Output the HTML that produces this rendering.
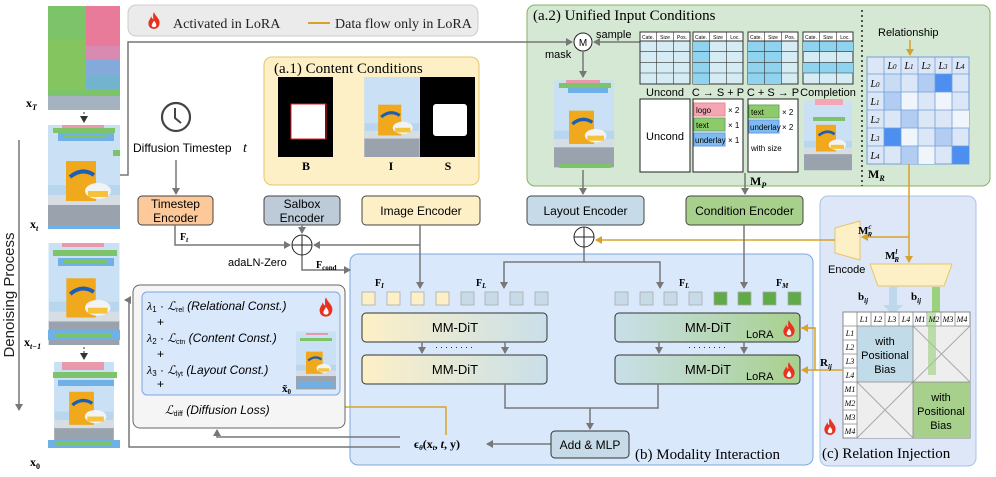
<!DOCTYPE html>
<html><head><meta charset="utf-8"><style>
html,body{margin:0;padding:0;background:#fff}
svg{display:block}
.s{font-family:"Liberation Sans",sans-serif}
.r{font-family:"Liberation Serif",serif}
</style></head><body>
<svg width="996" height="477" viewBox="0 0 996 477" xmlns="http://www.w3.org/2000/svg">
<defs>
<marker id="ag" markerWidth="8" markerHeight="8" refX="6" refY="4" orient="auto" markerUnits="userSpaceOnUse"><path d="M0,0 L7,4 L0,8 Z" fill="#777"/></marker>
<marker id="ay" markerWidth="8" markerHeight="8" refX="6" refY="4" orient="auto" markerUnits="userSpaceOnUse"><path d="M0,0 L7,4 L0,8 Z" fill="#d6a32a"/></marker>
<marker id="ak" markerWidth="8" markerHeight="8" refX="6" refY="4" orient="auto" markerUnits="userSpaceOnUse"><path d="M0,0 L7,4 L0,8 Z" fill="#333"/></marker>
<symbol id="photo" viewBox="0 0 72 104">
<rect width="72" height="104" fill="#b9d6ef"/>
<rect x="0" y="0" width="72" height="60" fill="#c9e0f5"/>
<rect x="0" y="78" width="72" height="26" fill="#9aa3ad"/>
<rect x="0" y="70" width="72" height="10" fill="#d6dde3"/>
<rect x="18" y="36" width="30" height="40" fill="#f0a81c"/>
<path d="M22 52 q12 -10 24 -2" stroke="#1d5fb5" stroke-width="4" fill="none"/>
<ellipse cx="50" cy="66" rx="13" ry="8" fill="#f3f3f3"/>
<rect x="40" y="66" width="20" height="6" fill="#f5c23a"/>
</symbol>
<symbol id="flame" viewBox="0 0 20 24">
<path d="M10 0 C12 6 18 9 18 15 C18 21 14 24 10 24 C5 24 2 21 2 16 C2 12 5 10 6 6 C7 9 8 10 9 10 C9 6 8 3 10 0 Z" fill="#e8321e"/>
<path d="M10 12 C12 15 14 17 13 20 C12 22 8 22 7 20 C6 18 8 16 10 12 Z" fill="#fff"/>
</symbol>
<linearGradient id="gy" x1="0" x2="1"><stop offset="0" stop-color="#fdf0c6"/><stop offset="1" stop-color="#c9dfe9"/></linearGradient>
<linearGradient id="gg" x1="0" x2="1"><stop offset="0" stop-color="#c9dfe9"/><stop offset="1" stop-color="#a8d08d"/></linearGradient>
</defs>

<!-- legend -->
<rect x="128" y="5" width="350" height="31" rx="8" fill="#ebebeb" stroke="#ccc"/>
<use href="#flame" x="147" y="12" width="14" height="17"/>
<text x="173" y="28" class="r" font-size="14" fill="#222">Activated in LoRA</text>
<line x1="308" y1="23" x2="330" y2="23" stroke="#d6a32a" stroke-width="2"/>
<text x="335" y="28" class="r" font-size="14" fill="#222">Data flow only in LoRA</text>

<!-- left column images -->
<g>
<rect x="48" y="6" width="72" height="104" fill="#7cc36a"/>
<rect x="86" y="6" width="34" height="40" fill="#e87a9a"/>
<rect x="86" y="46" width="34" height="30" fill="#d88ab0"/>
<rect x="76" y="60" width="44" height="30" fill="#6fb0e6" opacity=".8"/>
<rect x="48" y="40" width="38" height="50" fill="#84c560"/>
<rect x="48" y="96" width="72" height="14" fill="#a5b2c0"/>
</g>
<text x="26" y="107" class="r" font-size="12" font-weight="bold">x<tspan font-size="8" dy="3" font-style="italic">T</tspan></text>
<line x1="84" y1="112" x2="84" y2="122" stroke="#333" stroke-dasharray="2,2" marker-end="url(#ak)"/>
<use href="#photo" x="48" y="125" width="72" height="104"/>
<rect x="62" y="125" width="42" height="3" fill="#e89aac"/><rect x="53" y="128" width="62" height="5" fill="#7cc36a"/><rect x="58" y="133" width="56" height="8" fill="#6fb0e6"/><rect x="64" y="135" width="44" height="3" fill="#7cc36a"/><rect x="113" y="150" width="7" height="6" fill="#7cc36a"/><rect x="48" y="225" width="72" height="4" fill="#6fb0e6"/>
<text x="30" y="228" class="r" font-size="12" font-weight="bold">x<tspan font-size="8" dy="3" font-style="italic">t</tspan></text>
<use href="#photo" x="48" y="243" width="72" height="102"/>
<rect x="62" y="243" width="42" height="4" fill="#e89aac"/><rect x="53" y="250" width="64" height="6" fill="#7cc36a"/><rect x="58" y="258" width="56" height="8" fill="#6fb0e6"/><rect x="64" y="260" width="44" height="3" fill="#7cc36a"/><rect x="48" y="330" width="72" height="10" fill="#6fb0e6"/><rect x="56" y="333" width="56" height="4" fill="#7cc36a"/>
<text x="24" y="346" class="r" font-size="12" font-weight="bold">x<tspan font-size="8" dy="3" font-style="italic">t−1</tspan></text>
<line x1="84" y1="347" x2="84" y2="359" stroke="#333" stroke-dasharray="2,2" marker-end="url(#ak)"/>
<use href="#photo" x="48" y="362" width="72" height="86"/>
<rect x="62" y="362" width="42" height="8" fill="#e89aac"/><rect x="53" y="372" width="64" height="6" fill="#7cc36a"/><rect x="58" y="380" width="56" height="6" fill="#6fb0e6"/><rect x="48" y="440" width="72" height="8" fill="#6fb0e6"/><rect x="56" y="442" width="56" height="3" fill="#7cc36a"/>
<text x="30" y="466" class="r" font-size="12" font-weight="bold">x<tspan font-size="8" dy="3">0</tspan></text>
<line x1="19" y1="140" x2="19" y2="410" stroke="#777" stroke-width="1.5" marker-end="url(#ag)"/>
<text transform="translate(14,295) rotate(-90)" class="s" font-size="15" text-anchor="middle" fill="#222">Denoising Process</text>

<!-- a.1 -->
<rect x="264" y="57" width="215" height="128" rx="8" fill="#fdf0c6" stroke="#e6c56a"/>
<text x="274" y="73" class="r" font-size="15">(a.1) Content Conditions</text>
<rect x="278" y="77" width="55" height="80" fill="#000"/>
<rect x="291" y="104" width="34" height="35" fill="#fff"/><rect x="291" y="104" width="35" height="35" fill="none" stroke="#e02020"/>
<use href="#photo" x="364" y="77" width="56" height="80"/>
<rect x="420" y="77" width="55" height="80" fill="#000"/>
<rect x="433" y="104" width="34" height="32" rx="3" fill="#fff"/>
<text x="306" y="170" class="r" font-size="12" font-weight="bold" text-anchor="middle">B</text>
<text x="391" y="170" class="r" font-size="12" font-weight="bold" text-anchor="middle">I</text>
<text x="448" y="170" class="r" font-size="12" font-weight="bold" text-anchor="middle">S</text>

<!-- clock -->
<circle cx="176" cy="117" r="14" fill="none" stroke="#444" stroke-width="2.2"/>
<path d="M175 108 L175 118 L181 123" stroke="#444" stroke-width="2" fill="none"/>
<text x="133" y="152" class="s" font-size="12">Diffusion Timestep</text><text x="243" y="152" class="r" font-size="14" font-style="italic">t</text>

<!-- encoders -->
<rect x="138" y="196" width="75" height="29" rx="4" fill="#fdc99a" stroke="#444"/>
<text x="175.5" y="208" class="s" font-size="12" text-anchor="middle">Timestep</text><text x="175.5" y="222" class="s" font-size="12" text-anchor="middle">Encoder</text>
<rect x="264" y="196" width="76" height="29" rx="4" fill="#bccbd7" stroke="#444"/>
<text x="302" y="208" class="s" font-size="12" text-anchor="middle">Salbox</text><text x="302" y="222" class="s" font-size="12" text-anchor="middle">Encoder</text>
<rect x="362" y="196" width="118" height="29" rx="4" fill="#fdf0c6" stroke="#444"/>
<text x="421" y="215" class="s" font-size="12" text-anchor="middle">Image Encoder</text>
<rect x="527" y="196" width="117" height="29" rx="4" fill="#c6dbe7" stroke="#444"/>
<text x="585.5" y="215" class="s" font-size="12" text-anchor="middle">Layout Encoder</text>
<rect x="686" y="196" width="117" height="29" rx="4" fill="#a8d08d" stroke="#444"/>
<text x="744.5" y="215" class="s" font-size="12" text-anchor="middle">Condition Encoder</text>

<!-- a.2 -->
<rect x="527" y="5" width="463" height="181" rx="8" fill="#d5e8d4" stroke="#82b366"/>
<text x="533" y="20" class="r" font-size="15">(a.2) Unified Input Conditions</text>
<line x1="862" y1="10" x2="862" y2="186" stroke="#222" stroke-width="1.5" stroke-dasharray="2,3"/>
<circle cx="583" cy="42" r="9" fill="#fff" stroke="#222"/>
<text x="583" y="46" class="s" font-size="10" text-anchor="middle">M</text>
<text x="596" y="38" class="s" font-size="11">sample</text>
<text x="545" y="58" class="s" font-size="11">mask</text>
<line x1="640" y1="42" x2="594" y2="42" stroke="#777" stroke-width="1.5" marker-end="url(#ag)"/>
<line x1="583" y1="51" x2="583" y2="77" stroke="#777" stroke-width="1.5" marker-end="url(#ag)"/>
<use href="#photo" x="554" y="80" width="60" height="88"/>
<rect x="566" y="80" width="34" height="3" fill="#e89aac"/><rect x="559" y="83" width="52" height="5" fill="#7cc36a"/><rect x="568" y="88" width="40" height="5" fill="#6fb0e6"/><rect x="559" y="164" width="52" height="4" fill="#7cc36a"/>
<!-- tables -->
<g class="s" font-size="5" text-anchor="middle">
<g transform="translate(640,32)">
<rect width="50" height="52" fill="#d6ecf5" stroke="#333"/><rect width="50" height="9" fill="#fff" stroke="#333"/>
<path d="M16.7 0 V52 M33.3 0 V52 M0 19.7 H50 M0 30.3 H50 M0 41 H50" stroke="#333" stroke-width=".6"/>
<text x="8" y="7">Cate.</text><text x="25" y="7">Size</text><text x="42" y="7">Pos.</text>
</g>
<g transform="translate(693,32)">
<rect width="50" height="52" fill="#d6ecf5" stroke="#333"/><rect x="0" y="9" width="16.7" height="43" fill="#8fd3ee"/><rect width="50" height="9" fill="#fff" stroke="#333"/>
<path d="M16.7 0 V52 M33.3 0 V52 M0 19.7 H50 M0 30.3 H50 M0 41 H50" stroke="#333" stroke-width=".6"/>
<text x="8" y="7">Cate.</text><text x="25" y="7">Size</text><text x="42" y="7">Loc.</text>
</g>
<g transform="translate(748,32)">
<rect width="50" height="52" fill="#d6ecf5" stroke="#333"/><rect x="0" y="9" width="33.3" height="43" fill="#8fd3ee"/><rect width="50" height="9" fill="#fff" stroke="#333"/>
<path d="M16.7 0 V52 M33.3 0 V52 M0 19.7 H50 M0 30.3 H50 M0 41 H50" stroke="#333" stroke-width=".6"/>
<text x="8" y="7">Cate.</text><text x="25" y="7">Size</text><text x="42" y="7">Pos.</text>
</g>
<g transform="translate(803,32)">
<rect width="50" height="52" fill="#d6ecf5" stroke="#333"/><rect x="0" y="9" width="50" height="10.7" fill="#8fd3ee"/><rect x="0" y="30.3" width="50" height="10.7" fill="#8fd3ee"/><rect width="50" height="9" fill="#fff" stroke="#333"/>
<path d="M16.7 0 V52 M33.3 0 V52 M0 19.7 H50 M0 30.3 H50 M0 41 H50" stroke="#333" stroke-width=".6"/>
<text x="8" y="7">Cate.</text><text x="25" y="7">Size</text><text x="42" y="7">Loc.</text>
</g>
</g>
<g class="s" font-size="11" text-anchor="middle">
<text x="665" y="96">Uncond</text><text x="718" y="96">C → S + P</text><text x="773" y="96">C + S → P</text><text x="828" y="96">Completion</text>
</g>
<rect x="640" y="99" width="50" height="73" fill="#fff" stroke="#222"/>
<text x="665" y="140" class="s" font-size="11" text-anchor="middle">Uncond</text>
<rect x="693" y="99" width="50" height="73" fill="#fff" stroke="#222"/>
<rect x="694" y="103" width="31" height="13" fill="#f4a6b4" stroke="#e88"/><text x="696" y="113" class="s" font-size="8">logo</text><text x="728" y="113" class="s" font-size="8">× 2</text>
<rect x="694" y="118" width="31" height="13" fill="#8dcb6a" stroke="#6a6"/><text x="696" y="128" class="s" font-size="8">text</text><text x="728" y="128" class="s" font-size="8">× 1</text>
<rect x="694" y="133" width="31" height="13" fill="#7fbbee" stroke="#69e"/><text x="695" y="143" class="s" font-size="8">underlay</text><text x="728" y="143" class="s" font-size="8">× 1</text>
<rect x="748" y="99" width="50" height="73" fill="#fff" stroke="#222"/>
<rect x="749" y="105" width="30" height="13" fill="#8dcb6a" stroke="#6a6"/><text x="751" y="115" class="s" font-size="8">text</text><text x="782" y="115" class="s" font-size="8">× 2</text>
<rect x="749" y="120" width="30" height="13" fill="#7fbbee" stroke="#69e"/><text x="750" y="130" class="s" font-size="8">underlay</text><text x="782" y="130" class="s" font-size="8">× 2</text>
<text x="751" y="151" class="s" font-size="8">with size</text>
<use href="#photo" x="804" y="99" width="48" height="73"/>
<rect x="815" y="99" width="28" height="6" fill="#f4a6b4"/><rect x="813" y="117" width="32" height="4" fill="#7cc36a"/>
<text x="750" y="185" class="r" font-size="12" font-weight="bold">M<tspan font-size="8" font-style="italic" dy="3">P</tspan></text>
<line x1="745" y1="173" x2="745" y2="194" stroke="#777" stroke-width="1.5" marker-end="url(#ag)"/>
<line x1="583" y1="170" x2="583" y2="194" stroke="#777" stroke-width="1.5" marker-end="url(#ag)"/>
<!-- relation matrix MR -->
<text x="878" y="36" class="s" font-size="11">Relationship</text>
<line x1="910" y1="40" x2="910" y2="55" stroke="#d6a32a" stroke-width="1.5" marker-end="url(#ay)"/>
<g>
<rect x="867" y="57" width="102" height="107" fill="#dbe6f6" stroke="#6f9fd8"/>
<rect x="884" y="74" width="17" height="18" fill="#c8dcf4"/><rect x="918" y="74" width="17" height="18" fill="#b3cdf2"/><rect x="935" y="74" width="17" height="18" fill="#4d8ff0"/>
<rect x="884" y="92" width="17" height="18" fill="#b3cdf2"/><rect x="901" y="92" width="17" height="18" fill="#f0f5fc"/><rect x="935" y="92" width="17" height="18" fill="#f0f5fc"/>
<rect x="901" y="110" width="17" height="18" fill="#b3cdf2"/><rect x="952" y="110" width="17" height="18" fill="#f0f5fc"/>
<rect x="884" y="128" width="17" height="18" fill="#4d8ff0"/><rect x="901" y="128" width="17" height="18" fill="#f0f5fc"/><rect x="935" y="128" width="17" height="18" fill="#b3cdf2"/>
<rect x="901" y="146" width="17" height="18" fill="#b3cdf2"/><rect x="918" y="146" width="17" height="18" fill="#f0f5fc"/><rect x="952" y="146" width="17" height="18" fill="#4d8ff0"/>
<path d="M884 57V164M901 57V164M918 57V164M935 57V164M952 57V164M867 74H969M867 92H969M867 110H969M867 128H969M867 146H969" stroke="#6f9fd8" stroke-width=".8"/>
<g class="r" font-size="10" font-style="italic" text-anchor="middle">
<text x="892" y="69">L<tspan font-size="7">0</tspan></text><text x="909" y="69">L<tspan font-size="7">1</tspan></text><text x="926" y="69">L<tspan font-size="7">2</tspan></text><text x="943" y="69">L<tspan font-size="7">3</tspan></text><text x="960" y="69">L<tspan font-size="7">4</tspan></text>
<text x="875" y="87">L<tspan font-size="7">0</tspan></text><text x="875" y="105">L<tspan font-size="7">1</tspan></text><text x="875" y="123">L<tspan font-size="7">2</tspan></text><text x="875" y="141">L<tspan font-size="7">3</tspan></text><text x="875" y="159">L<tspan font-size="7">4</tspan></text>
</g>
</g>
<text x="868" y="178" class="r" font-size="12" font-weight="bold">M<tspan font-size="8" font-style="italic" dy="3">R</tspan></text>

<!-- (c) relation injection -->
<rect x="820" y="196" width="156" height="270" rx="8" fill="#dde7f7" stroke="#a9c2ea"/>
<path d="M860 221 L835 228 L835 253 L860 260 Z" fill="#fdf0c6" stroke="#e6c56a"/>
<path d="M870 264 L952 264 L944 286 L878 286 Z" fill="#fdf0c6" stroke="#e6c56a"/>
<text x="828" y="273" class="s" font-size="11">Encode</text>
<text x="858" y="234" class="r" font-size="11" font-weight="bold">M<tspan font-size="7" font-style="italic" dy="-5">c</tspan><tspan font-size="7" font-style="italic" dx="-4" dy="8">R</tspan></text>
<text x="885" y="259" class="r" font-size="11" font-weight="bold">M<tspan font-size="7" font-style="italic" dy="-5">l</tspan><tspan font-size="7" font-style="italic" dx="-3" dy="8">R</tspan></text>
<path d="M909 164 V262" stroke="#d6a32a" stroke-width="1.5" fill="none" marker-end="url(#ay)"/>
<path d="M909 237 H862" stroke="#d6a32a" stroke-width="1.5" fill="none" marker-end="url(#ay)"/>
<path d="M835 240 H596" stroke="#d6a32a" stroke-width="1.5" fill="none" marker-end="url(#ay)"/>
<text x="858" y="300" class="r" font-size="11" font-weight="bold">b<tspan font-size="7" font-style="italic" dy="3">ij</tspan></text>
<text x="911" y="300" class="r" font-size="11" font-weight="bold">b<tspan font-size="7" font-style="italic" dy="3">ij</tspan></text>
<path d="M889 287 H897 V305 H903 L893 315 L883 305 H889 Z" fill="#bcd8ea"/>
<path d="M932 287 H940 V375 H946 L936 385 L926 375 H932 Z" fill="#9bd07c"/>
<!-- matrix c -->
<rect x="843" y="312" width="127" height="126" fill="#fff" stroke="#888"/>
<rect x="857" y="326" width="56" height="56" fill="#c2dbe8"/>
<rect x="913" y="326" width="57" height="56" fill="#eee"/>
<rect x="857" y="382" width="56" height="56" fill="#eee"/>
<rect x="913" y="382" width="57" height="56" fill="#a8d08d"/>
<path d="M913 326 L970 382 M970 326 L913 382 M857 382 L913 438 M913 382 L857 438" stroke="#aaa"/>
<path d="M857 312V438 M843 326H970 M871 312V326 M885 312V326 M899 312V326 M913 312V326 M927 312V326 M941 312V326 M955 312V326 M843 340H857 M843 354H857 M843 368H857 M843 382H970 M843 396H857 M843 410H857 M843 424H857 M913 326V438" stroke="#888" stroke-width=".8"/>
<path d="M932 312 V375" stroke="#9bd07c" stroke-width="8" opacity=".6"/>
<g class="r" font-size="8" font-style="italic" text-anchor="middle">
<text x="864" y="322">L1</text><text x="878" y="322">L2</text><text x="892" y="322">L3</text><text x="906" y="322">L4</text><text x="920" y="322">M1</text><text x="934" y="322">M2</text><text x="948" y="322">M3</text><text x="962" y="322">M4</text>
<text x="850" y="336">L1</text><text x="850" y="350">L2</text><text x="850" y="364">L3</text><text x="850" y="378">L4</text><text x="850" y="392">M1</text><text x="850" y="406">M2</text><text x="850" y="420">M3</text><text x="850" y="434">M4</text>
</g>
<g class="s" font-size="11" text-anchor="middle">
<text x="885" y="345">with</text><text x="885" y="359">Positional</text><text x="885" y="373">Bias</text>
<text x="941" y="401">with</text><text x="941" y="415">Positional</text><text x="941" y="429">Bias</text>
</g>
<use href="#flame" x="823" y="418" width="14" height="17"/>
<text x="822" y="458" class="r" font-size="15">(c) Relation Injection</text>

<!-- (b) modality interaction -->
<rect x="350" y="254" width="463" height="211" rx="8" fill="#dae8fc" stroke="#7ea6e0"/>
<text x="635" y="459" class="r" font-size="15">(b) Modality Interaction</text>
<g class="r" font-size="10" font-weight="bold">
<text x="375" y="286">F<tspan font-size="7" font-style="italic" dy="2">I</tspan></text>
<text x="476" y="286">F<tspan font-size="7" font-style="italic" dy="2">L</tspan></text>
<text x="679" y="286">F<tspan font-size="7" font-style="italic" dy="2">L</tspan></text>
<text x="776" y="286">F<tspan font-size="7" font-style="italic" dy="2">M</tspan></text>
</g>
<g stroke="#aaa" stroke-width=".8">
<rect x="362" y="292" width="13" height="13" fill="#fdf0c6"/><rect x="387" y="292" width="13" height="13" fill="#fdf0c6"/><rect x="411" y="292" width="13" height="13" fill="#fdf0c6"/><rect x="436" y="292" width="13" height="13" fill="#fdf0c6"/>
<rect x="461" y="292" width="13" height="13" fill="#c6dbe7"/><rect x="485" y="292" width="13" height="13" fill="#c6dbe7"/><rect x="510" y="292" width="13" height="13" fill="#c6dbe7"/><rect x="535" y="292" width="13" height="13" fill="#c6dbe7"/>
<rect x="615" y="292" width="13" height="13" fill="#c6dbe7"/><rect x="640" y="292" width="13" height="13" fill="#c6dbe7"/><rect x="664" y="292" width="13" height="13" fill="#c6dbe7"/><rect x="689" y="292" width="13" height="13" fill="#c6dbe7"/>
<rect x="714" y="292" width="13" height="13" fill="#5eab47"/><rect x="738" y="292" width="13" height="13" fill="#5eab47"/><rect x="763" y="292" width="13" height="13" fill="#5eab47"/><rect x="788" y="292" width="13" height="13" fill="#5eab47"/>
</g>
<rect x="362" y="313" width="185" height="29" rx="4" fill="url(#gy)" stroke="#333"/>
<rect x="362" y="355" width="185" height="29" rx="4" fill="url(#gy)" stroke="#333"/>
<rect x="615" y="313" width="185" height="29" rx="4" fill="url(#gg)" stroke="#333"/>
<rect x="615" y="355" width="185" height="29" rx="4" fill="url(#gg)" stroke="#333"/>
<g class="s" font-size="13" text-anchor="middle">
<text x="455" y="332">MM-DiT</text><text x="455" y="374">MM-DiT</text>
<text x="708" y="332">MM-DiT</text><text x="708" y="374">MM-DiT</text>
</g>
<text x="746" y="338" class="s" font-size="11">LoRA</text><text x="746" y="380" class="s" font-size="11">LoRA</text>
<use href="#flame" x="782" y="319" width="14" height="19"/><use href="#flame" x="782" y="361" width="14" height="19"/>
<text x="455" y="350" class="s" font-size="9" text-anchor="middle" letter-spacing="2">········</text>
<text x="708" y="350" class="s" font-size="9" text-anchor="middle" letter-spacing="2">········</text>
<g stroke="#777" stroke-width="1.5" fill="none">
<path d="M422 342V353" marker-end="url(#ag)"/><path d="M505 342V353" marker-end="url(#ag)"/>
<path d="M659 342V353" marker-end="url(#ag)"/><path d="M744 342V353" marker-end="url(#ag)"/>
<path d="M505 384V408H658V384"/><path d="M590 408V429" marker-end="url(#ag)"/>
<path d="M551 444H487" marker-end="url(#ag)"/>
<path d="M584 247V262H504V288" marker-end="url(#ag)"/><path d="M584 262H660V288" marker-end="url(#ag)"/>
<path d="M744 225V288" marker-end="url(#ag)"/>
<path d="M420 225V288" marker-end="url(#ag)"/>
<path d="M420 245H314" marker-end="url(#ag)"/>
<path d="M302 225V233" marker-end="url(#ag)"/>
<path d="M175 225V245H290" marker-end="url(#ag)"/>
<path d="M302 255V270H350" marker-end="url(#ag)"/>
<path d="M176 160V194" marker-end="url(#ag)"/>
<path d="M584 225V225"/>
<path d="M120 175H128V42H572" marker-end="url(#ag)"/>
<path d="M400 437H217V430" marker-end="url(#ag)"/>
<path d="M400 447H129V300H125" marker-end="url(#ag)"/>
</g>
<rect x="551" y="431" width="78" height="27" rx="4" fill="#c6dbe7" stroke="#333"/>
<text x="590" y="449" class="s" font-size="12" text-anchor="middle">Add &amp; MLP</text>
<circle cx="302" cy="245" r="10" fill="#fff" stroke="#222"/><path d="M292 245H312M302 235V255" stroke="#222"/>
<circle cx="584" cy="237" r="10" fill="#fff" stroke="#222"/><path d="M574 237H594M584 227V247" stroke="#222"/>
<text x="228" y="266" class="s" font-size="11">adaLN-Zero</text>
<text x="316" y="268" class="r" font-size="10" font-weight="bold">F<tspan font-size="7" dy="2">cond</tspan></text>
<text x="180" y="240" class="r" font-size="10" font-weight="bold">F<tspan font-size="7" font-style="italic" dy="2">t</tspan></text>
<text x="414" y="448" class="r" font-size="12" font-weight="bold">ϵ<tspan font-size="7" font-style="italic" dy="2">θ</tspan><tspan dy="-2">(x</tspan><tspan font-size="7" font-style="italic" dy="2">t</tspan><tspan dy="-2">, </tspan><tspan font-style="italic">t</tspan>, y)</text>
<path d="M446 435V407H313V394" stroke="#d6a32a" stroke-width="1.5" fill="none" marker-end="url(#ay)"/>
<path d="M800 328H815V370H843" stroke="#d6a32a" stroke-width="1.5" fill="none"/>
<path d="M815 328H802" stroke="#d6a32a" stroke-width="1.5" marker-end="url(#ay)"/>
<path d="M815 370H802" stroke="#d6a32a" stroke-width="1.5" marker-end="url(#ay)"/>
<text x="820" y="366" class="r" font-size="11" font-weight="bold">R<tspan font-size="7" font-style="italic" dy="3">ij</tspan></text>

<!-- loss box -->
<rect x="133" y="285" width="212" height="143" rx="7" fill="#f5f5f5" stroke="#666"/>
<rect x="142" y="292" width="198" height="103" rx="5" fill="#dae8fc" stroke="#7ea6e0"/>
<g class="s" font-size="12">
<text x="147" y="310"><tspan class="r" font-style="italic">λ</tspan><tspan font-size="8" dy="2">1</tspan><tspan dy="-2"> · </tspan><tspan class="r" font-style="italic">ℒ</tspan><tspan font-size="7" dy="2">rel</tspan><tspan dy="-2" font-style="italic"> (Relational Const.)</tspan></text>
<text x="157" y="326">+</text>
<text x="147" y="342"><tspan class="r" font-style="italic">λ</tspan><tspan font-size="8" dy="2">2</tspan><tspan dy="-2"> · </tspan><tspan class="r" font-style="italic">ℒ</tspan><tspan font-size="7" dy="2">ctn</tspan><tspan dy="-2" font-style="italic"> (Content Const.)</tspan></text>
<text x="157" y="358">+</text>
<text x="147" y="374"><tspan class="r" font-style="italic">λ</tspan><tspan font-size="8" dy="2">3</tspan><tspan dy="-2"> · </tspan><tspan class="r" font-style="italic">ℒ</tspan><tspan font-size="7" dy="2">lyt</tspan><tspan dy="-2" font-style="italic"> (Layout Const.)</tspan></text>
<text x="157" y="388">+</text>
<text x="165" y="414"><tspan class="r" font-style="italic">ℒ</tspan><tspan font-size="7" dy="2">diff</tspan><tspan dy="-2" font-style="italic"> (Diffusion Loss)</tspan></text>
</g>
<use href="#flame" x="318" y="297" width="16" height="20"/>
<use href="#photo" x="296" y="330" width="40" height="61"/>
<rect x="306" y="333" width="22" height="2" fill="#e89aac"/><rect x="300" y="338" width="32" height="3" fill="#7cc36a"/><rect x="298" y="381" width="36" height="6" fill="#6fb0e6"/>
<text x="282" y="392" class="r" font-size="11" font-weight="bold">x̃<tspan font-size="7" dy="2">0</tspan></text>
</svg>
</body></html>
